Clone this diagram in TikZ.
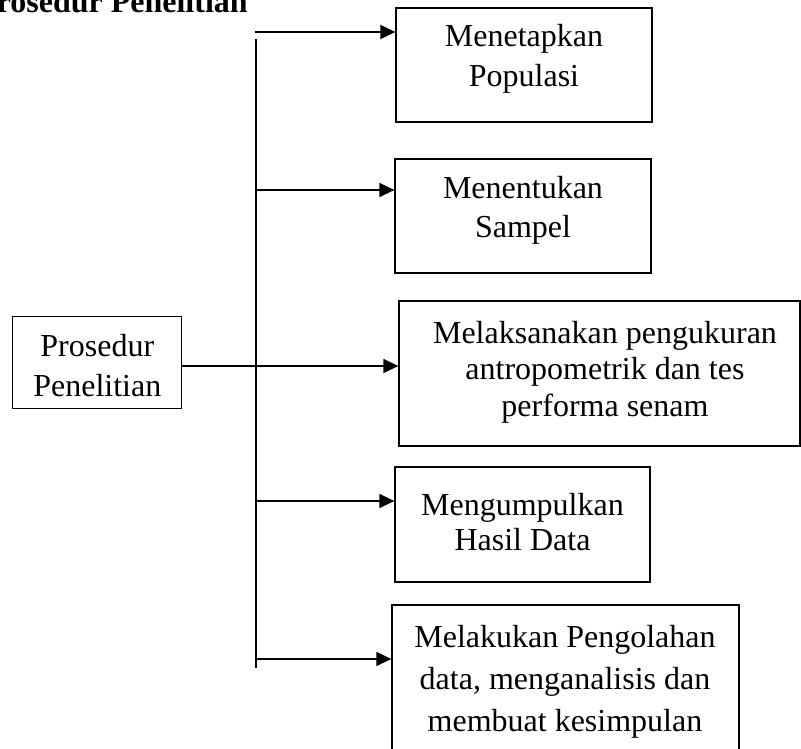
\documentclass[tikz,border=0pt]{standalone}
\usepackage{fontspec}
\setmainfont{Liberation Serif}
\usetikzlibrary{arrows.meta}
\begin{document}
\begin{tikzpicture}[x=1pt,y=-1pt]
\tikzset{
  frame/.style={draw=black, line width=1.3pt, inner sep=0pt},
  txt/.style={align=center, font=\fontsize{32}{#1}\selectfont, inner sep=0pt, anchor=base},
  txt/.default=37,
  conn/.style={line width=1.4pt},
  arr/.style={conn, -{Triangle[length=15pt,width=14pt]}},
}
\useasboundingbox (0,0) rectangle (801,749);
\clip (0,0) rectangle (801,749);
\fill[white] (0,0) rectangle (801,749);

% title
\node[font=\bfseries\fontsize{32}{37}\selectfont, anchor=base west, inner sep=0pt] (title) at (-23,13) {Prosedur Penelitian};

% boxes
\node[frame, minimum width=256pt, minimum height=114pt] (b1) at (524,65) {};
\node[frame, minimum width=256pt, minimum height=114pt] (b2) at (523,216) {};
\node[frame, minimum width=401pt, minimum height=145pt] (b3) at (599.5,373.5) {};
\node[frame, minimum width=255pt, minimum height=115pt] (b4) at (522.5,524.5) {};
\node[frame, minimum width=347pt, minimum height=165pt] (b5) at (565.5,687.5) {};
\node[frame, minimum width=169pt, minimum height=92pt] (p) at (97.3,362.5) {};

% texts (anchor base = baseline of the last line)
\node[txt=39.5] (t1) at (524,86.5) {Menetapkan\\Populasi};
\node[txt=39.5] (t2) at (523,237.5) {Menentukan\\Sampel};
\node[txt=36.5] (t3) at (605,416) {Melaksanakan pengukuran\\antropometrik dan tes\\performa senam};
\node[txt=35] (t4) at (522.5,550) {Mengumpulkan\\Hasil Data};
\node[txt=42] (t5) at (565,731) {Melakukan Pengolahan\\data, menganalisis dan\\membuat kesimpulan};
\node[txt=39.3] (tp) at (97.3,396) {Prosedur\\Penelitian};

% connectors
\coordinate (v1) at (256,39);
\coordinate (v2) at (256,668);
\draw[conn] (v1) -- (v2);
\coordinate (s1) at (255,32);
\coordinate (s2) at (255,190);
\coordinate (s3) at (182,366);
\coordinate (s4) at (255,501);
\coordinate (s5) at (255,659);
\draw[arr] (s1) -- (b1.west |- s1);
\draw[arr] (s2) -- (b2.west |- s2);
\draw[arr] (s3) -- (b3.west |- s3);
\draw[arr] (s4) -- (b4.west |- s4);
\draw[arr] (s5) -- (b5.west |- s5);
\end{tikzpicture}
\end{document}
